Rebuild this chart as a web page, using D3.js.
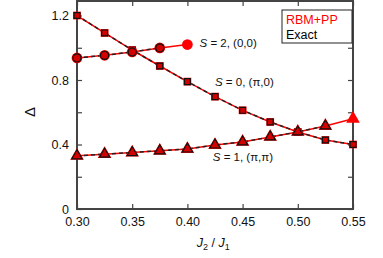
<!DOCTYPE html>
<html>
<head>
<meta charset="utf-8">
<script src="https://cdn.jsdelivr.net/npm/d3@7"></script>
<style>
  body { margin: 0; background: #fff; }
  text { font-family: "Liberation Sans", Arial, sans-serif; }
</style>
</head>
<body>
<svg id="chart" width="383" height="258"></svg>
<script>
  // data
  var xS0 = [0.30, 0.325, 0.35, 0.375, 0.40, 0.425, 0.45, 0.475, 0.50, 0.525, 0.55];
  var rbmS0 = [1.20, 1.092, 0.986, 0.887, 0.790, 0.697, 0.612, 0.540, 0.478, 0.428, 0.400];
  var exactS0 = [1.20, 1.092, 0.986, 0.887, 0.790, 0.697, 0.612, 0.540, 0.478, 0.428, 0.400];

  var xS1 = [0.30, 0.325, 0.35, 0.375, 0.40, 0.425, 0.45, 0.475, 0.50, 0.525, 0.55];
  var rbmS1 = [0.330, 0.340, 0.350, 0.361, 0.372, 0.397, 0.416, 0.447, 0.478, 0.515, 0.560];
  var exactS1 = [0.330, 0.340, 0.350, 0.361, 0.372, 0.397, 0.416, 0.447, 0.478, 0.515];

  var xS2 = [0.30, 0.325, 0.35, 0.375, 0.40];
  var rbmS2 = [0.937, 0.953, 0.974, 0.999, 1.020];
  var exactS2 = [0.937, 0.953, 0.974, 0.999];

  var xTicks = [0.30, 0.35, 0.40, 0.45, 0.50, 0.55];
  var yTicks = [0, 0.4, 0.8, 1.2];
  var yMinor = [0.2, 0.6, 1.0];

  var svg = d3.select('#chart');
  var margin = {left: 77, right: 30, top: 1, bottom: 49};
  var width = 383 - margin.left - margin.right,
      height = 258 - margin.top - margin.bottom;

  var x = d3.scaleLinear().domain([0.30, 0.55]).range([0, width]);
  var y = d3.scaleLinear().domain([0, 1.29]).range([height, 0]);

  var g = svg.append('g').attr('transform', 'translate(' + margin.left + ',' + margin.top + ')');

  var axisColor = '#444';

  // inward ticks on all four sides
  function styleAxis(sel) {
    sel.select('.domain').remove();
    sel.selectAll('.tick line').attr('stroke', axisColor).attr('stroke-width', 1.2);
    sel.selectAll('.tick text').attr('fill', '#111').style('font-size', '12.5px');
  }

  var xBottom = g.append('g').attr('transform', 'translate(0,' + height + ')')
    .call(d3.axisBottom(x).tickValues(xTicks).tickSize(-5).tickPadding(8).tickFormat(d3.format('.2f')));
  styleAxis(xBottom);
  var xTop = g.append('g')
    .call(d3.axisTop(x).tickValues(xTicks).tickSize(-5).tickFormat(''));
  styleAxis(xTop);

  var yLeft = g.append('g')
    .call(d3.axisLeft(y).tickValues(yTicks.concat(yMinor)).tickSize(-5).tickPadding(8)
      .tickFormat(function(d) { return yTicks.indexOf(d) >= 0 ? (d === 0 ? '0' : d3.format('.1f')(d)) : ''; }));
  styleAxis(yLeft);
  var yRight = g.append('g').attr('transform', 'translate(' + width + ',0)')
    .call(d3.axisRight(y).tickValues(yTicks.concat(yMinor)).tickSize(-5).tickFormat(''));
  styleAxis(yRight);

  // frame
  g.append('rect').attr('x', 0).attr('y', 0).attr('width', width).attr('height', height)
    .attr('fill', 'none').attr('stroke', axisColor).attr('stroke-width', 2);

  var line = d3.line().x(function(d) { return x(d[0]); }).y(function(d) { return y(d[1]); });

  function zip(xs, ys) { return ys.map(function(v, i) { return [xs[i], v]; }); }

  var series = [
    {xs: xS0, rbm: rbmS0, exact: exactS0, shape: d3.symbolSquare, size: 60},
    {xs: xS1, rbm: rbmS1, exact: exactS1, shape: d3.symbolTriangle, size: 80},
    {xs: xS2, rbm: rbmS2, exact: exactS2, shape: d3.symbolCircle, size: 90}
  ];

  series.forEach(function(s) {
    g.append('path').datum(zip(s.xs, s.rbm)).attr('d', line)
      .attr('fill', 'none').attr('stroke', '#f00').attr('stroke-width', 1.5);
    g.append('path').datum(zip(s.xs, s.exact)).attr('d', line)
      .attr('fill', 'none').attr('stroke', '#222').attr('stroke-width', 1.5)
      .attr('stroke-dasharray', '4,3');
  });

  series.forEach(function(s) {
    var sym = d3.symbol().type(s.shape).size(s.size);
    // RBM+PP red markers
    g.selectAll(null).data(zip(s.xs, s.rbm)).enter().append('path')
      .attr('d', sym)
      .attr('transform', function(d) { return 'translate(' + x(d[0]) + ',' + y(d[1]) + ')'; })
      .attr('fill', '#f00').attr('stroke', 'none');
    // exact markers outlined
    var symE = d3.symbol().type(s.shape).size(s.size * 0.58);
    g.selectAll(null).data(zip(s.xs, s.exact)).enter().append('path')
      .attr('d', symE)
      .attr('transform', function(d) { return 'translate(' + x(d[0]) + ',' + y(d[1]) + ')'; })
      .attr('fill', '#d40000').attr('stroke', '#111').attr('stroke-width', 1.2);
  });

  // state labels
  function stateLabel(xp, yp, rest) {
    var t = g.append('text').attr('x', x(xp)).attr('y', y(yp)).style('font-size', '11.5px').attr('fill', '#111');
    t.append('tspan').style('font-style', 'italic').text('S');
    t.append('tspan').text(rest);
  }
  stateLabel(0.411, 1.005, ' = 2, (0,0)');
  stateLabel(0.425, 0.765, ' = 0, (π,0)');
  stateLabel(0.423, 0.30, ' = 1, (π,π)');

  // legend
  var lg = g.append('g').attr('transform', 'translate(205,9)');
  lg.append('rect').attr('width', 70).attr('height', 33)
    .attr('fill', '#fff').attr('stroke', '#222').attr('stroke-width', 1);
  lg.append('text').attr('x', 4).attr('y', 14).attr('fill', '#f00').style('font-size', '12.5px').text('RBM+PP');
  lg.append('text').attr('x', 4).attr('y', 29).attr('fill', '#000').style('font-size', '12.5px').text('Exact');

  // axis titles
  svg.append('text').attr('transform', 'translate(35,112) rotate(-90)').attr('text-anchor', 'middle')
    .style('font-size', '15px').attr('fill', '#111').text('Δ');

  var xl = svg.append('text').attr('x', margin.left + x(0.4235)).attr('y', 247).attr('text-anchor', 'middle')
    .style('font-size', '12.5px').attr('fill', '#111');
  xl.append('tspan').style('font-style', 'italic').text('J');
  xl.append('tspan').attr('dy', 3).style('font-size', '9px').text('2');
  xl.append('tspan').attr('dy', -3).text(' / ');
  xl.append('tspan').style('font-style', 'italic').text('J');
  xl.append('tspan').attr('dy', 3).style('font-size', '9px').text('1');
</script>
</body>
</html>
